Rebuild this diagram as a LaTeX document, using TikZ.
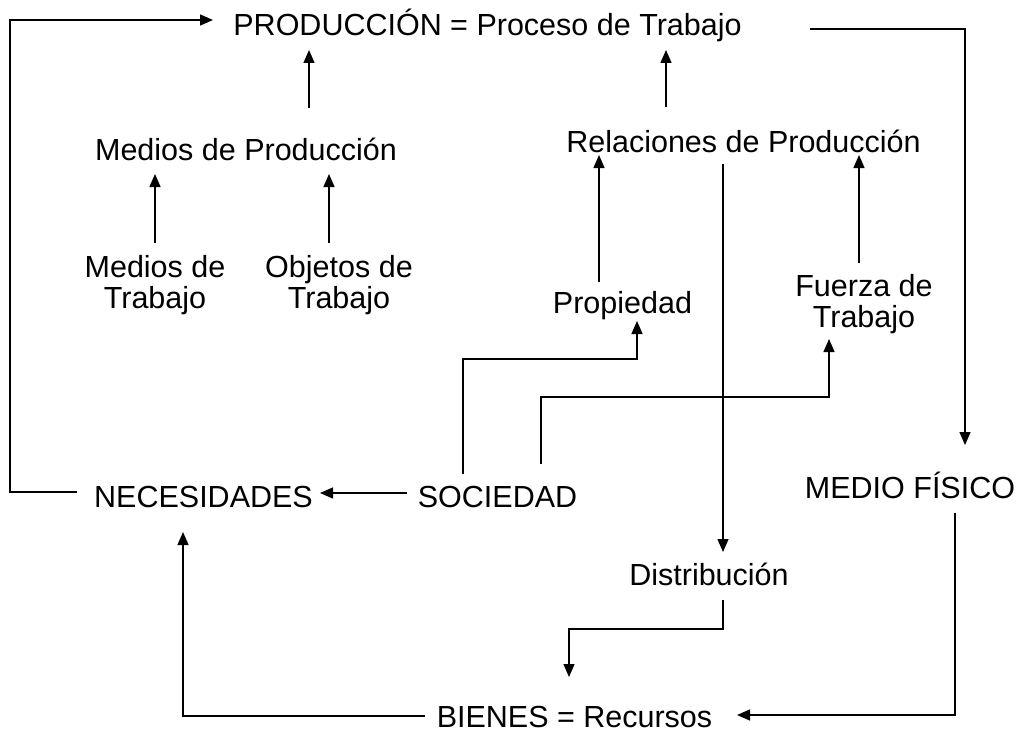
\documentclass[tikz,border=0pt]{standalone}
\usepackage{fontspec}
\setmainfont{Liberation Sans}
\usetikzlibrary{arrows.meta,calc}
\tikzset{
  lbl/.style={inner sep=0pt, outer sep=0pt, anchor=base, align=center, font=\fontsize{30.5}{31}\selectfont},
  con/.style={line width=1.4pt, line join=miter},
  arr/.style={con, -{Triangle[length=13pt,width=11pt]}}
}
\begin{document}
\begin{tikzpicture}[x=1pt,y=-1pt]
\path[use as bounding box, fill=white] (0,0) rectangle (1019,733);
% nodes (base = baseline of last line)
\node[lbl] (prod) at (487.5,36) {PRODUCCIÓN = Proceso de Trabajo};
\node[lbl] (mp) at (246,160) {Medios de Producción};
\node[lbl] (rp) at (743.5,152) {Relaciones de Producción};
\node[lbl] (mt) at (155,308) {Medios de\\Trabajo};
\node[lbl] (ot) at (339,308) {Objetos de\\Trabajo};
\node[lbl] (prop) at (622.5,313) {Propiedad};
\node[lbl] (ft) at (864,327) {Fuerza de\\Trabajo};
\node[lbl] (nec) at (203.5,507) {NECESIDADES};
\node[lbl] (soc) at (497.5,507) {SOCIEDAD};
\node[lbl] (mf) at (910,498) {MEDIO FÍSICO};
\node[lbl] (dist) at (709,585) {Distribución};
\node[lbl] (bien) at (574.5,727) {BIENES = Recursos};
% connectors
\draw[arr] ($(nec.base)+(-126.5,-15)$) -- ++(-67,0) |- ($(prod.base)+(-274.5,-16)$);
\draw[arr] ($(mp.base)+(63,-52)$) -- ($(prod.base)+(-178.5,14)$);
\draw[arr] ($(rp.base)+(-77.5,-45)$) -- ($(prod.base)+(178.5,14)$);
\draw[arr] ($(prod.base)+(322.5,-7)$) -| ($(mf.base)+(55,-53)$);
\draw[arr] ($(mt.base)+(0,-65)$) -- ($(mp.base)+(-91,14)$);
\draw[arr] ($(ot.base)+(-10,-65)$) -- ($(mp.base)+(83,14)$);
\draw[arr] ($(prop.base)+(-23.5,-31)$) -- ($(rp.base)+(-144.5,3)$);
\draw[arr] ($(ft.base)+(-5,-64)$) -- ($(rp.base)+(115.5,3)$);
\draw[arr] ($(rp.base)+(-20.5,12)$) -- ($(dist.base)+(14,-33)$);
\draw[arr] ($(soc.base)+(-34.5,-33)$) |- ($(prop.base)+(14.5,46)$) -- ($(prop.base)+(14.5,8)$);
\draw[arr] ($(soc.base)+(43.5,-43)$) |- ($(ft.base)+(-35,70)$) -- ($(ft.base)+(-35,12)$);
\draw[arr] ($(soc.base)+(-90.5,-14)$) -- ($(nec.base)+(116.5,-14)$);
\draw[arr] ($(bien.base)+(-149.5,-11)$) -| ($(nec.base)+(-20.5,25)$);
\draw[arr] ($(mf.base)+(45,15)$) |- ($(bien.base)+(162.5,-12)$);
\draw[arr] ($(dist.base)+(14,15)$) -- ++(0,29) -| ($(bien.base)+(-5.5,-50)$);
\end{tikzpicture}
\end{document}
